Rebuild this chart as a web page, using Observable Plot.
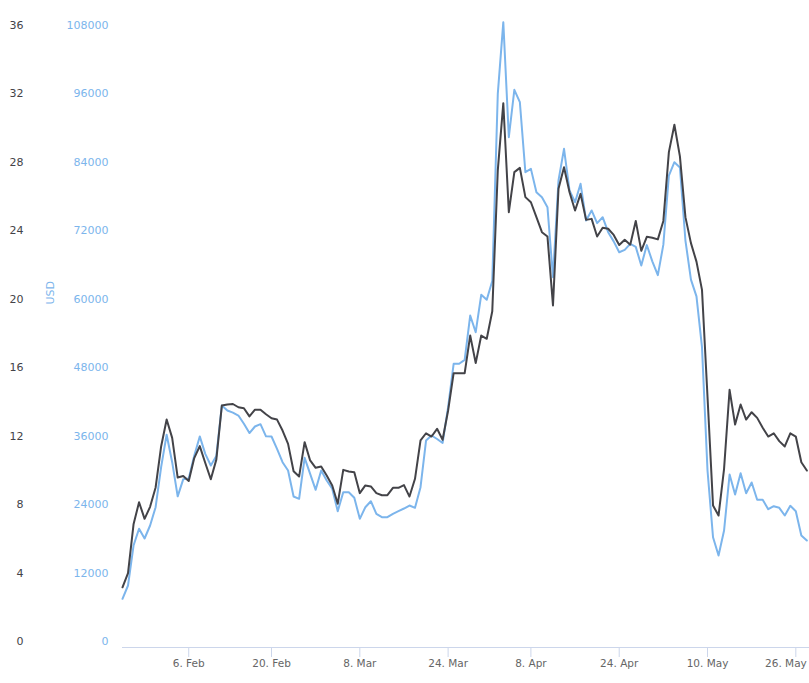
<!DOCTYPE html>
<html>
<head>
<meta charset="utf-8">
<script src="https://cdn.jsdelivr.net/npm/d3@7"></script>
<script src="https://cdn.jsdelivr.net/npm/@observablehq/plot@0.6"></script>
<style>
  html, body { margin: 0; padding: 0; background: #fff; }
  #chart svg { display: block; }
</style>
</head>
<body>
<div id="chart"></div>
<script>
// Daily points (ordinal index along the x axis)
const blackSeries = [
  3.17, 4.0, 6.85, 8.14, 7.17, 7.87, 9.0, 11.4, 12.97, 11.9,
  9.58, 9.67, 9.38, 10.72, 11.42, 10.43, 9.48, 10.63, 13.79, 13.85,
  13.88, 13.69, 13.63, 13.16, 13.55, 13.55, 13.28, 13.05, 12.97, 12.33,
  11.55, 9.95, 9.64, 11.65, 10.58, 10.15, 10.23, 9.7, 9.12, 8.05,
  10.03, 9.94, 9.89, 8.67, 9.12, 9.06, 8.67, 8.55, 8.55, 8.98,
  8.98, 9.14, 8.47, 9.51, 11.75, 12.17, 11.98, 12.43, 11.79, 13.5,
  15.68, 15.68, 15.68, 17.88, 16.27, 17.88, 17.69, 19.3, 27.53, 31.46,
  25.09, 27.43, 27.68, 25.97, 25.67, 24.8, 23.92, 23.67, 19.64, 26.46,
  27.72, 26.26, 25.19, 26.16, 24.64, 24.7, 23.67, 24.18, 24.12, 23.76,
  23.17, 23.48, 23.19, 24.58, 22.83, 23.65, 23.6, 23.5, 24.58, 28.6,
  30.2, 28.35, 24.8, 23.28, 22.2, 20.55, 14.3, 7.95, 7.36, 10.09,
  14.71, 12.68, 13.85, 12.97, 13.4, 13.07, 12.49, 11.98, 12.17, 11.71,
  11.4, 12.17, 11.98, 10.48, 9.99
];
const usdSeries = [
  7490, 9820, 16830, 19760, 18060, 20340, 23550, 30560, 36260, 31435,
  25450, 28430, 28600, 32550, 35960, 32900, 30856, 32520, 41375, 40499,
  40120, 39622, 38167, 36550, 37694, 38100, 35970, 35941, 33784, 31435,
  29980, 25421, 25018, 32206, 29401, 26596, 29980, 28227, 26771, 22845,
  26175, 26175, 25194, 21512, 23546, 24598, 22388, 21793, 21793, 22388,
  22845, 23318, 23844, 23441, 27052, 35239, 36116, 35500, 34800, 41078,
  48690, 48690, 49386, 57154, 54226, 60784, 59907, 63200, 96021, 108580,
  88417, 96723, 94550, 82279, 82863, 78774, 77898, 76145, 63876, 80826,
  86380, 79070, 77022, 80246, 73810, 75570, 73340, 74390, 71760, 70150,
  68253, 68670, 69727, 69190, 65920, 69500, 66650, 64230, 69580, 81700,
  84032, 83100, 70300, 63440, 60500, 51597, 29980, 18286, 15078, 19460,
  29278, 25772, 29506, 26000, 27876, 24843, 24843, 23195, 23721, 23441,
  22090, 23791, 22845, 18584, 17707
];
const xTickIndex = [12, 27, 43, 59, 74, 90, 106, 122];
const xTickLabels = ["6. Feb", "20. Feb", "8. Mar", "24. Mar", "8. Apr", "24. Apr", "10. May", "26. May"];
const leftTicks = [0, 4, 8, 12, 16, 20, 24, 28, 32, 36];
const usdTicks = [0, 12000, 24000, 36000, 48000, 60000, 72000, 84000, 96000, 108000];
const usdRatio = 3000; // 36 on the left axis == 108000 USD

const blackData = blackSeries.map((v, i) => ({i, v}));
const usdData = usdSeries.map((v, i) => ({i, v}));
const xLabel = d => xTickLabels[xTickIndex.indexOf(d)];
const lastTick = xTickIndex[xTickIndex.length - 1];

const chart = Plot.plot({
  width: 809,
  height: 683,
  marginLeft: 122,
  marginRight: 0,
  marginTop: 25,
  marginBottom: 36,
  style: {fontFamily: "DejaVu Sans, sans-serif", fontSize: "11px", background: "#fff", overflow: "visible"},
  x: {domain: [0, 124.48]},
  y: {domain: [-0.35, 36]},
  marks: [
    Plot.frame({anchor: "bottom", stroke: "#ccd6eb"}),
    // tick marks
    Plot.axisX(xTickIndex, {
      tickSize: 10, stroke: "#ccd6eb", tickFormat: () => "", label: null
    }),
    // tick labels (last one kept inside the chart)
    Plot.axisX(xTickIndex.slice(0, -1), {
      tickSize: 0, tickPadding: 12, fill: "#666666", fontSize: 10.5,
      tickFormat: xLabel, label: null
    }),
    Plot.axisX([lastTick], {
      tickSize: 0, tickPadding: 12, fill: "#666666", fontSize: 10.5,
      textAnchor: "end", dx: 11, tickFormat: xLabel, label: null
    }),
    Plot.axisY(leftTicks, {
      tickSize: 0, tickPadding: 99, fill: "#434348", label: null
    }),
    Plot.axisY(usdTicks.map(v => v / usdRatio), {
      tickSize: 0, tickPadding: 14, fill: "#7cb5ec",
      tickFormat: d => String(Math.round(d * usdRatio)), label: null
    }),
    Plot.text(["USD"], {
      frameAnchor: "left", dx: -72, dy: -32, rotate: -90,
      fill: "#7cb5ec", fontSize: 11
    }),
    Plot.line(usdData, {
      x: "i", y: d => d.v / usdRatio, stroke: "#7cb5ec", strokeWidth: 2,
      strokeLinejoin: "round", strokeLinecap: "round"
    }),
    Plot.line(blackData, {
      x: "i", y: "v", stroke: "#434348", strokeWidth: 2,
      strokeLinejoin: "round", strokeLinecap: "round"
    })
  ]
});
document.getElementById("chart").appendChild(chart);
</script>
</body>
</html>
